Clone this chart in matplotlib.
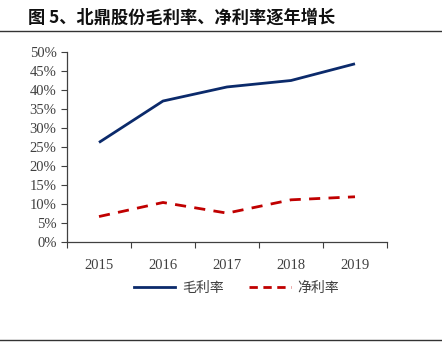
import matplotlib
matplotlib.use("Agg")
import matplotlib.pyplot as plt
from matplotlib.lines import Line2D

# 数据
years = ["2015", "2016", "2017", "2018", "2019"]
gross_margin = [26.2, 37.1, 40.8, 42.5, 46.9]
net_margin = [6.7, 10.4, 7.6, 11.1, 11.9]
y_ticks = list(range(0, 55, 5))

plt.rcParams["font.family"] = ["Liberation Serif", "Noto Sans CJK SC"]

fig = plt.figure(figsize=(4.42, 3.52), dpi=100)
ax = fig.add_axes([67 / 442, 1 - 242 / 352, 320 / 442, 190 / 352])

x = list(range(len(years)))
ax.plot(x, gross_margin, color="#0b2a6b", lw=2.0, solid_capstyle="butt")
ax.plot(x, net_margin, color="#c00000", lw=2.0, dashes=(4, 3))

ax.set_xlim(-0.5, len(years) - 0.5)
ax.set_ylim(0, 50)
ax.set_yticks(y_ticks)
ax.set_yticklabels([f"{v}%" for v in y_ticks])
ax.set_xticks([i + 0.5 for i in range(-1, len(years))])
ax.set_xticklabels([])
ax.set_xticks(x, minor=True)
ax.set_xticklabels(years, minor=True)
ax.tick_params(axis="x", which="minor", length=0, pad=12)
ax.tick_params(axis="x", which="major", length=4, direction="out", color="#404040")
ax.tick_params(axis="y", length=4, direction="out", color="#404040")
ax.tick_params(labelsize=10.5, labelcolor="#404040")
ax.tick_params(axis="x", which="minor", labelsize=10.5, labelcolor="#404040")

for s in ["top", "right"]:
    ax.spines[s].set_visible(False)
for s in ["left", "bottom"]:
    ax.spines[s].set_color("#404040")
    ax.spines[s].set_linewidth(0.9)

# 图例
handles = [Line2D([], [], color="#0b2a6b", lw=2.0),
           Line2D([], [], color="#c00000", lw=2.0, dashes=(3, 2))]
fig.legend(handles, ["毛利率", "净利率"], loc="center", bbox_to_anchor=(0.535, 1 - 288 / 352),
           ncol=2, frameon=False, handlelength=3.0, columnspacing=1.8, handletextpad=0.5,
           prop={"family": "Noto Sans CJK SC", "size": 10}, labelcolor="#404040")

# 标题和分隔线
fig.text(28 / 442, 1 - 18 / 352, "图 5、北鼎股份毛利率、净利率逐年增长", fontsize=12.4,
         fontweight="bold", family=["Noto Sans CJK SC"], va="center", ha="left", color="#111111")
fig.add_artist(Line2D([0, 1], [1 - 31 / 352] * 2, color="#333333", lw=1.0))
fig.add_artist(Line2D([0, 1], [1 - 340 / 352] * 2, color="#333333", lw=1.0))

fig.savefig("out.png", dpi=100)
